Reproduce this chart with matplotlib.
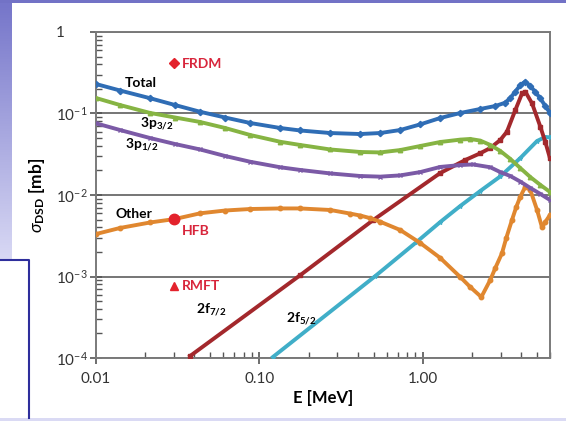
import numpy as np
import matplotlib
matplotlib.use("Agg")
import matplotlib.pyplot as plt
from matplotlib.patches import Rectangle
from matplotlib.lines import Line2D
from matplotlib.colors import LinearSegmentedColormap
from matplotlib.ticker import FixedLocator, FixedFormatter, LogLocator, NullFormatter

plt.rcParams['font.family'] = ['Lato', 'DejaVu Sans']
plt.rcParams['mathtext.fontset'] = 'custom'
plt.rcParams['mathtext.rm'] = 'Lato'
plt.rcParams['mathtext.it'] = 'Lato:italic'
plt.rcParams['mathtext.bf'] = 'Lato:bold'
plt.rcParams['mathtext.fallback'] = 'stixsans'

# cross sections [mb] against neutron energy [MeV]
e_total = [0.01, 0.01403, 0.02142, 0.03047, 0.04335, 0.06166, 0.0877, 0.1339, 0.1775, 0.271, 0.4136,
           0.5484, 0.727, 0.964, 1.278, 1.694, 2.246, 2.776, 3.197, 3.43, 3.68, 3.949, 4.238, 4.547,
           4.879, 5.236, 5.618, 6.0]
s_total = [0.230, 0.1915, 0.154, 0.127, 0.105, 0.0893, 0.0765, 0.0664, 0.0619, 0.0576, 0.0560,
           0.0576, 0.0627, 0.0735, 0.0881, 0.1014, 0.1136, 0.1236, 0.1357, 0.1549, 0.1853, 0.2237,
           0.2460, 0.2175, 0.1836, 0.153, 0.1236, 0.1014]

e_p32 = [0.01, 0.01403, 0.02142, 0.03047, 0.04335, 0.06166, 0.0877, 0.1339, 0.1775, 0.271, 0.4136,
         0.5484, 0.727, 0.964, 1.278, 1.694, 1.95, 2.246, 2.586, 2.978, 3.43, 3.949, 4.547, 5.236, 6.0]
s_p32 = [0.1549, 0.127, 0.1016, 0.0893, 0.0787, 0.0664, 0.0545, 0.0450, 0.0411, 0.0362, 0.0337,
         0.0333, 0.0356, 0.0399, 0.0447, 0.0478, 0.0487, 0.0465, 0.0411, 0.0347, 0.0277, 0.0214,
         0.0166, 0.0133, 0.0109]

e_p12 = [0.01, 0.01403, 0.02142, 0.03047, 0.04335, 0.06166, 0.0877, 0.1339, 0.1775, 0.271, 0.4136,
         0.5484, 0.727, 0.964, 1.278, 1.694, 2.03, 2.586, 2.978, 3.43, 3.949, 4.547, 5.236, 6.0]
s_p12 = [0.0758, 0.0627, 0.0500, 0.0422, 0.0362, 0.0301, 0.0256, 0.0219, 0.0203, 0.0184, 0.0171,
         0.0168, 0.0174, 0.0191, 0.0221, 0.0233, 0.0237, 0.0219, 0.0191, 0.0171, 0.0146, 0.0122,
         0.0103, 0.00868]

e_other = [0.01, 0.01403, 0.02142, 0.03047, 0.04335, 0.06166, 0.0877, 0.1339, 0.1775, 0.271, 0.36,
           0.4136, 0.4727, 0.5484, 0.727, 0.964, 1.278, 1.694, 1.95, 2.28, 2.586, 2.776, 3.05, 3.24,
           3.51, 3.73, 3.949, 4.238, 4.547, 5.0, 5.36, 5.618, 6.0]
s_other = [0.00332, 0.00394, 0.00460, 0.00508, 0.00596, 0.00645, 0.00673, 0.00684, 0.00684, 0.00655,
           0.00591, 0.00560, 0.00522, 0.00470, 0.00372, 0.00258, 0.00169, 0.000986, 0.000743, 0.000560,
           0.000906, 0.00127, 0.00193, 0.00297, 0.00493, 0.00713, 0.00953, 0.01265, 0.0115, 0.00655,
           0.00402, 0.00467, 0.00569]

e_f72 = [0.0377, 0.178, 0.497, 1.278, 1.82, 2.246, 2.586, 2.978, 3.27, 3.68, 4.05, 4.238, 4.66,
         5.236, 5.618, 6.0]
s_f72 = [1.06e-4, 1.04e-3, 4.93e-3, 0.0186, 0.0269, 0.0325, 0.0377, 0.0473, 0.0598, 0.110, 0.177,
         0.185, 0.133, 0.0689, 0.0447, 0.0282]

e_f52 = [0.121, 0.511, 0.920, 1.278, 1.694, 2.246, 2.978, 3.949, 5.0, 5.618, 6.0]
s_f52 = [1.03e-4, 1.01e-3, 2.67e-3, 0.00466, 0.00733, 0.0112, 0.0169, 0.0284, 0.0460, 0.0515, 0.0510]

# model predictions at 30 keV
e_models = [0.03, 0.03, 0.03]
s_models = [0.413, 0.00503, 7.6e-4]
model_names = ["FRDM", "HFB", "RMFT"]

W, H = 566, 421
fig = plt.figure(figsize=(W / 100, H / 100), dpi=100, facecolor="white")

# slide frame around the chart
fig.add_artist(Rectangle((0, 1 - 3 / H), 1, 3 / H, transform=fig.transFigure,
                         color="#7272c6", lw=0))
fig.add_artist(Rectangle((0, 0), 1, 3 / H, transform=fig.transFigure,
                         color="#dadaf4", lw=0))
gax = fig.add_axes([0, 1 - 260 / H, 12 / W, 257 / H])
grad = np.linspace(0, 1, 100)[:, None]
cm = LinearSegmentedColormap.from_list("slide", ["#7676ca", "#d8d8f4"])
gax.imshow(grad, aspect="auto", cmap=cm, extent=[0, 1, 0, 1])
gax.axis("off")
fig.add_artist(Line2D([0, 29 / W, 29 / W], [1 - 260 / H, 1 - 260 / H, 3 / H],
                      transform=fig.transFigure, color="#2e2e9c", lw=1.5))

ax = fig.add_axes([96 / W, 1 - 358 / H, (550 - 96) / W, (358 - 32) / H])
ax.set_xscale("log")
ax.set_yscale("log")
ax.set_xlim(0.01, 6.0)
ax.set_ylim(1e-4, 1)

series = [
    (e_f52, s_f52, "#40aec8", "*"),
    (e_f72, s_f72, "#a3282c", "s"),
    (e_other, s_other, "#e0872f", "o"),
    (e_p12, s_p12, "#7b5aa6", "x"),
    (e_p32, s_p32, "#86b443", "^"),
    (e_total, s_total, "#2f6db5", "D"),
]
for e, s, c, m in series:
    ax.plot(e, s, color=c, lw=2.8, marker=m, ms=3.2, mec=c, mfc=c, zorder=3)

ax.plot(e_models[0], s_models[0], marker="D", ms=5, color="#e3222c", ls="none", zorder=4)
ax.plot(e_models[1], s_models[1], marker="o", ms=7.5, color="#e3222c", ls="none", zorder=4)
ax.plot(e_models[2], s_models[2], marker="^", ms=6, color="#e3222c", ls="none", zorder=4)

red_txt = "#d8263c"
ax.text(0.0335, 0.41, model_names[0], color=red_txt, fontsize=10, fontweight="bold", va="center")
ax.text(0.0335, 0.0036, model_names[1], color=red_txt, fontsize=10, fontweight="bold", va="center")
ax.text(0.0335, 7.6e-4, model_names[2], color=red_txt, fontsize=10, fontweight="bold", va="center")

lab = dict(fontsize=10, fontweight="bold", color="black", ha="center", va="center")
ax.text(0.0187, 0.235, "Total", **lab)
ax.text(0.0235, 0.075, r"3p$_{\mathbf{3/2}}$", **lab)
ax.text(0.0190, 0.041, r"3p$_{\mathbf{1/2}}$", **lab)
ax.text(0.0170, 0.0058, "Other", **lab)
ax.text(0.0510, 3.9e-4, r"2f$_{\mathbf{7/2}}$", **lab)
ax.text(0.1810, 3.0e-4, r"2f$_{\mathbf{5/2}}$", **lab)

# axes styling
for sp in ax.spines.values():
    sp.set_color("#7a7a7a")
    sp.set_linewidth(1.4)
ax.yaxis.grid(True, which="major", color="#6a6a6a", lw=1.3, zorder=1)
ax.set_axisbelow(True)

ax.xaxis.set_major_locator(FixedLocator([0.01, 0.1, 1.0]))
ax.xaxis.set_major_formatter(FixedFormatter(["0.01", "0.10", "1.00"]))
ax.xaxis.set_minor_locator(LogLocator(base=10, subs=np.arange(2, 10)))
ax.xaxis.set_minor_formatter(NullFormatter())
ax.yaxis.set_major_locator(FixedLocator([1e-4, 1e-3, 1e-2, 1e-1, 1]))
ax.yaxis.set_major_formatter(FixedFormatter([r"10$^{-4}$", r"10$^{-3}$", r"10$^{-2}$", r"10$^{-1}$", "1"]))
ax.yaxis.set_minor_locator(LogLocator(base=10, subs=np.arange(2, 10)))
ax.yaxis.set_minor_formatter(NullFormatter())

ax.tick_params(which="major", direction="inout", length=8, width=1.2, color="#555555",
               labelsize=11, labelcolor="#333333")
ax.tick_params(which="minor", direction="in", length=4, width=1.0, color="#555555")
ax.tick_params(axis="y", which="major", pad=25)
ax.tick_params(axis="x", which="major", pad=6)
for t in ax.get_yticklabels():
    t.set_horizontalalignment("left")

ax.set_xlabel("E [MeV]", fontsize=12, fontweight="bold", labelpad=3)
ax.set_ylabel(r"$\sigma_{\mathbf{DSD}}$ [mb]", fontsize=12.5, fontweight="bold", labelpad=6)

fig.savefig("out.png", dpi=100, facecolor="white")
